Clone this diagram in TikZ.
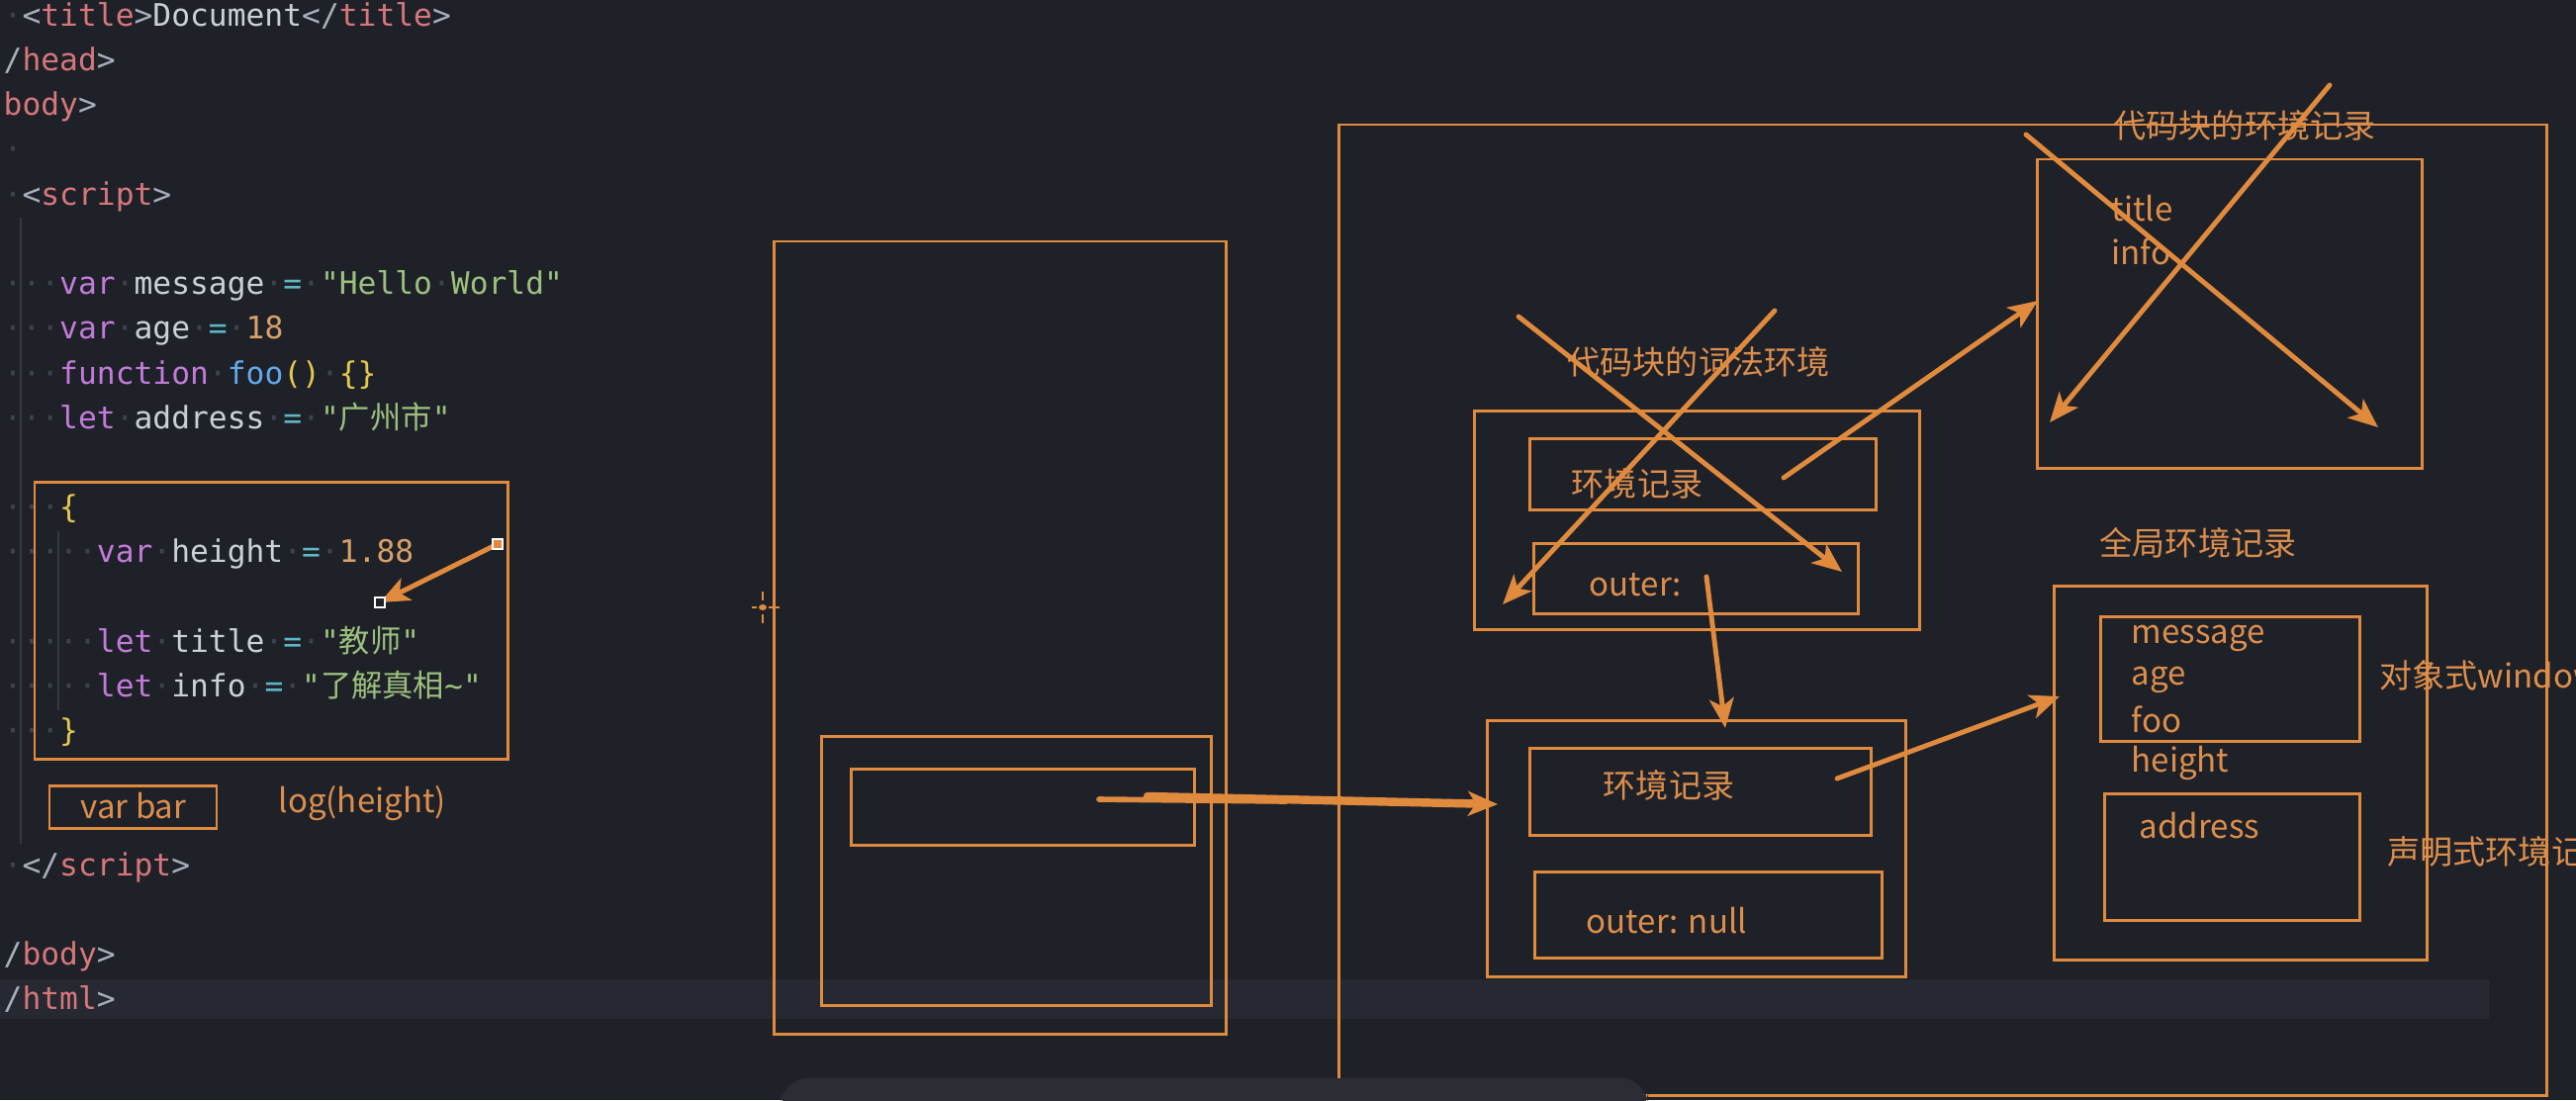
\documentclass[tikz,border=0pt]{standalone}
\usepackage{fontspec}
\setmainfont{Noto Sans CJK SC}
\setmonofont{DejaVu Sans Mono}
\newfontfamily\cjk{Noto Sans CJK SC}
\usetikzlibrary{arrows.meta,fit,calc}
\definecolor{bg}{HTML}{1F2129}
\definecolor{band}{HTML}{262932}
\definecolor{barc}{HTML}{2C2D34}
\definecolor{org}{HTML}{E08A3E}
\definecolor{otext}{HTML}{DC8E4C}
\definecolor{tagc}{HTML}{D6777B}
\definecolor{punc}{HTML}{A9AFBA}
\definecolor{idc}{HTML}{CBCFD6}
\definecolor{kwc}{HTML}{C27BD8}
\definecolor{opc}{HTML}{5CB8C4}
\definecolor{strc}{HTML}{9DC07E}
\definecolor{numc}{HTML}{D9A068}
\definecolor{fnc}{HTML}{62A9EC}
\definecolor{brc}{HTML}{E6C84E}
\definecolor{wsc}{HTML}{3E424C}
\definecolor{guide}{HTML}{353842}
\newcommand\Tg[1]{\textcolor{tagc}{#1}}
\newcommand\Pu[1]{\textcolor{punc}{#1}}
\newcommand\Id[1]{\textcolor{idc}{#1}}
\newcommand\Kw[1]{\textcolor{kwc}{#1}}
\newcommand\Op[1]{\textcolor{opc}{#1}}
\newcommand\St[1]{\textcolor{strc}{#1}}
\newcommand\Nu[1]{\textcolor{numc}{#1}}
\newcommand\Fn[1]{\textcolor{fnc}{#1}}
\newcommand\Br[1]{\textcolor{brc}{#1}}
\newcommand\Ws{\textcolor{wsc}{·}}
\newcommand\codefont{\ttfamily\fontsize{8.9}{10}\selectfont}
\tikzset{
  code/.style={anchor=west, inner sep=0pt, text height=7pt, text depth=2pt, font=\codefont},
  ann/.style={text=otext, inner sep=0pt, font=\fontsize{9.4}{11}\selectfont},
  abox/.style={draw=org, line width=0.85pt, inner sep=0pt},
  pen/.style={draw=org, line width=1.4pt, line cap=round, -{Stealth[length=8.5pt,width=7pt,inset=2.2pt]}},
}
\begin{document}
\begin{tikzpicture}[x=0.01cm,y=-0.01cm]
\useasboundingbox (0,0) rectangle (2604,1112);
\clip (0,0) rectangle (2604,1112);
\fill[bg] (0,0) rectangle (2604,1112);
% current line highlight
\fill[band] (0,990) rectangle (2516,1030);
% indent guides
\draw[guide, line width=0.6pt] (21,220) -- (21,853);
\draw[guide, line width=0.6pt] (59,537) -- (59,718);

% ---- code ----
\node[code] (l0) at (3,18) {\Ws\Pu{<}\Tg{title}\Pu{>}\Id{Document}\Pu{</}\Tg{title}\Pu{>}};
\node[code] (l1) at (3,63) {\Pu{/}\Tg{head}\Pu{>}};
\node[code] (l2) at (3,108) {\Tg{body}\Pu{>}};
\node[code] (l3) at (3,153) {\Ws};
\node[code] (l4) at (3,199) {\Ws\Pu{<}\Tg{script}\Pu{>}};
\node[code] (l6) at (3,289) {\Ws\Ws\Ws\Kw{var}\Ws\Id{message}\Ws\Op{=}\Ws\St{"Hello}\Ws\St{World"}};
\node[code] (l7) at (3,334) {\Ws\Ws\Ws\Kw{var}\Ws\Id{age}\Ws\Op{=}\Ws\Nu{18}};
\node[code] (l8) at (3,380) {\Ws\Ws\Ws\Kw{function}\Ws\Fn{foo}\Br{()}\Ws\Br{\{\}}};
\node[code] (l9) at (3,425) {\Ws\Ws\Ws\Kw{let}\Ws\Id{address}\Ws\Op{=}\Ws\St{"{\cjk 广州市}"}};
\node[code] (l11) at (3,515) {\Ws\Ws\Ws\Br{\{}};
\node[code] (l12) at (3,560) {\Ws\Ws\Ws\Ws\Ws\Kw{var}\Ws\Id{height}\Ws\Op{=}\Ws\Nu{1.88}};
\node[code] (l14) at (3,651) {\Ws\Ws\Ws\Ws\Ws\Kw{let}\Ws\Id{title}\Ws\Op{=}\Ws\St{"{\cjk 教师}"}};
\node[code] (l15) at (3,696) {\Ws\Ws\Ws\Ws\Ws\Kw{let}\Ws\Id{info}\Ws\Op{=}\Ws\St{"{\cjk 了解真相}\textasciitilde"}};
\node[code] (l16) at (3,741) {\Ws\Ws\Ws\Br{\}}};
\node[code] (l19) at (3,877) {\Ws\Pu{</}\Tg{script}\Pu{>}};
\node[code] (l21) at (3,967) {\Pu{/}\Tg{body}\Pu{>}};
\node[code] (l22) at (3,1012) {\Pu{/}\Tg{html}\Pu{>}};

% ---- code annotations ----
\node[abox, fit={(35,487) (513,767)}] (codebox) {};
\node[abox, fit={(50,794) (219,837)}] (varbar) {};
\node[ann] (varbart) at (135,815) {var bar};
\node[ann, anchor=west] (logh) at (281,812) {log(height)};
\coordinate (hs) at (503,550);
\coordinate (he) at (384,609);
\draw[pen] (hs) -- (he);
\draw[white, line width=0.5pt, fill=org] ($(hs)+(-5,-5)$) rectangle ($(hs)+(5,5)$);
\draw[white, line width=0.5pt, fill=bg] ($(he)+(-5,-5)$) rectangle ($(he)+(5,5)$);

% cursor
\coordinate (cur) at (771,614);
\draw[org, line width=0.5pt] (760,614) -- (765,614) (777,614) -- (788,614) (771,598) -- (771,607) (771,621) -- (771,630);
\fill[org] (cur) ellipse (4 and 3);

% ---- execution context stack ----
\node[abox, fit={(782,244) (1239,1045)}] (ecs) {};
\node[abox, fit={(830,744) (1224,1016)}] (gecin) {};
\node[abox, fit={(860,777) (1207,854)}] (gecvar) {};

% ---- heap ----
\node[abox, fit={(1353,126) (2574,1107)}] (heap) {};
\node[ann] (blkt) at (2269,127) {代码块的环境记录};
\node[abox, fit={(2059,161) (2448,473)}] (blkrec) {};
\node[ann, anchor=west] (ttl) at (2134,211) {title};
\node[ann, anchor=west] (inf) at (2134,254) {info};

\node[ann] (lext) at (1717,366) {代码块的词法环境};
\node[abox, fit={(1490,415) (1940,636)}] (lex) {};
\node[abox, fit={(1546,443) (1896,515)}] (lexrec) {};
\node[ann] (lexrect) at (1655,489) {环境记录};
\node[abox, fit={(1550,549) (1878,620)}] (lexout) {};
\node[ann, anchor=west] (lexoutt) at (1606,591) {outer:};

\node[abox, fit={(1503,728) (1926,987)}] (gec) {};
\node[abox, fit={(1546,756) (1891,844)}] (gecrec) {};
\node[ann] (gecrect) at (1687,794) {环境记录};
\node[abox, fit={(1551,881) (1902,968)}] (gecout) {};
\node[ann, anchor=west] (gecoutt) at (1603,931) {outer: null};

\node[ann] (globt) at (2222,549) {全局环境记录};
\node[abox, fit={(2076,592) (2453,970)}] (glob) {};
\node[abox, fit={(2123,623) (2385,749)}] (objrec) {};
\node[ann, anchor=west] (m1) at (2154,645) {message};
\node[ann, anchor=west] (m2) at (2154,687) {age};
\node[ann, anchor=west] (m3) at (2154,727) {foo};
\node[ann, anchor=west] (m4) at (2154,771) {height};
\node[abox, fit={(2127,802) (2385,930)}] (decl) {};
\node[ann, anchor=west] (addr) at (2162,835) {address};
\node[ann, anchor=west] (objt) at (2405,683) {对象式window};
\node[ann, anchor=west] (declt) at (2413,861) {声明式环境记录};

% ---- arrows ----
\coordinate (g1) at (1111,808);
\coordinate (g2) at (1300,810);
\coordinate (g3) at (1160,805);
\coordinate (g4) at (1514,813);
\draw[org, line width=1.6pt, line cap=round] (g1) -- (g2);
\draw[pen, line width=2.4pt] (g3) -- (g4);

\coordinate (o1) at (1725,583);
\coordinate (o2) at (1744,736);
\draw[pen] (o1) -- (o2);

\coordinate (r1) at (1857,787);
\coordinate (r2) at (2082,704);
\draw[pen] (r1) -- (r2);

\coordinate (e1) at (1803,483);
\coordinate (e2) at (2060,304);
\draw[pen] (e1) -- (e2);

% crosses
\coordinate (xa1) at (1535,320);
\coordinate (xa2) at (1862,578);
\coordinate (xb1) at (1794,314);
\coordinate (xb2) at (1519,611);
\draw[pen] (xa1) -- (xa2);
\draw[pen] (xb1) -- (xb2);
\coordinate (ya1) at (2048,136);
\coordinate (ya2) at (2404,432);
\coordinate (yb1) at (2355,86);
\coordinate (yb2) at (2072,427);
\draw[pen] (ya1) -- (ya2);
\draw[pen] (yb1) -- (yb2);

% scrollbar
\fill[barc, rounded corners=8] (789,1090) rectangle (1666,1130);
\end{tikzpicture}
\end{document}
